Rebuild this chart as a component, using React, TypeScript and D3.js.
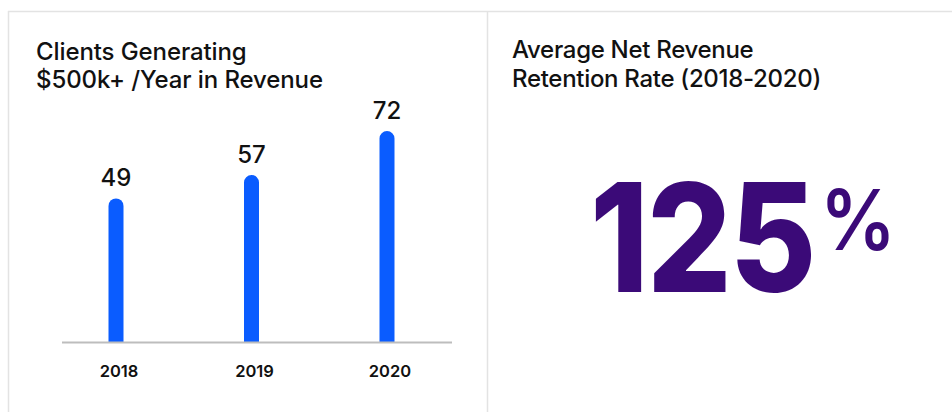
import React from "react";
import * as d3 from "d3";

const years = ["2018", "2019", "2020"];
const clients = [49, 57, 72];
const leftTitle = ["Clients Generating", "$500k+ /Year in Revenue"];
const rightTitle = ["Average Net Revenue", "Retention Rate (2018-2020)"];
const bigValue = "125";
const bigUnit = "%";

const W = 952;
const H = 412;
const FONT = "Inter, 'Noto Sans', sans-serif";

export default function App() {
  const x = d3.scalePoint<string>().domain(years).range([116, 387]);
  const baseY = 342;
  const y = d3.scaleLinear().domain([0, 72]).range([baseY, 131]);
  const bw = 15;

  const barPath = (cx: number, top: number) => {
    const p = d3.path();
    const r = bw / 2;
    p.moveTo(cx - r, baseY);
    p.lineTo(cx - r, top + r);
    p.arc(cx, top + r, r, Math.PI, 0);
    p.lineTo(cx + r, baseY);
    p.closePath();
    return p.toString();
  };

  return (
    <svg
      width={W}
      height={H}
      style={{ position: "absolute", left: 0, top: 0, background: "#fff" }}
      fontFamily={FONT}
    >
      {/* panel borders */}
      <line x1={8} x2={W} y1={11.5} y2={11.5} stroke="#e3e3e3" strokeWidth={1.5} />
      <line x1={8.5} x2={8.5} y1={11} y2={H} stroke="#e3e3e3" strokeWidth={1.5} />
      <line x1={487.5} x2={487.5} y1={11} y2={H} stroke="#e3e3e3" strokeWidth={1.5} />

      {/* left title */}
      {leftTitle.map((t, i) => (
        <text key={i} x={36} y={60 + i * 28} fontSize={24} fontWeight={500} fill="#111" letterSpacing={-0.1}>
          {t}
        </text>
      ))}

      {/* bars */}
      {years.map((yr, i) => (
        <g key={yr}>
          <path d={barPath(x(yr)!, y(clients[i]))} fill="#0a5cff" />
          <text
            x={x(yr)}
            y={y(clients[i]) - 12}
            textAnchor="middle"
            fontSize={24}
            fontWeight={500}
            fill="#111"
          >
            {clients[i]}
          </text>
          <text x={x(yr)! + 3} y={377} textAnchor="middle" fontSize={16.5} fontWeight={600} fill="#111">
            {yr}
          </text>
        </g>
      ))}
      <line x1={62} x2={452} y1={baseY + 0.5} y2={baseY + 0.5} stroke="#bdbdbd" strokeWidth={2} />

      {/* right title */}
      {rightTitle.map((t, i) => (
        <text key={i} x={512} y={58 + i * 29} fontSize={24} fontWeight={500} fill="#111" letterSpacing={-0.3}>
          {t}
        </text>
      ))}

      {/* big number */}
      <g transform="translate(590,292) scale(0.88,1)">
        <text x={0} y={0} fontSize={151} fontWeight={800} fill="#3b0a78" letterSpacing={-2}>
          {bigValue}
        </text>
      </g>
      <g transform="translate(820,250) scale(0.9,1)">
        <text x={0} y={0} fontSize={84} fontWeight={600} fill="#3b0a78">
          {bigUnit}
        </text>
      </g>
    </svg>
  );
}
